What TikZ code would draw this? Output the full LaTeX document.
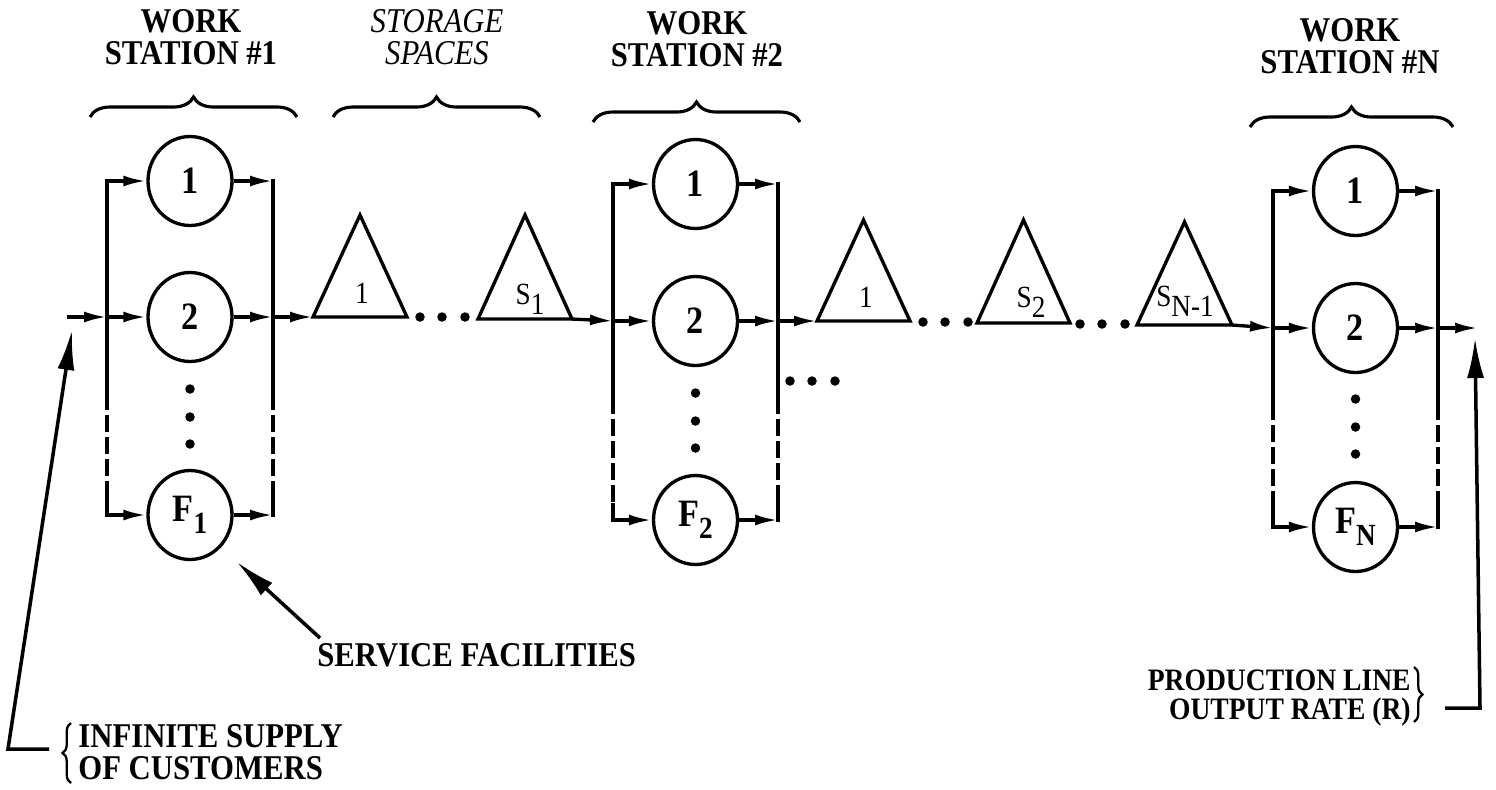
\documentclass[tikz,border=0pt]{standalone}
\usepackage{fontspec}
\setmainfont{Liberation Serif}
\usetikzlibrary{arrows.meta,shapes.geometric,decorations.pathreplacing}
\newcommand{\tall}[1]{\scalebox{1}[1.13]{#1}}
\newcommand{\fsub}[1]{\raisebox{-6pt}{\fontsize{15.5}{15.5}\selectfont #1}}
\newcommand{\tsub}[1]{\raisebox{-5.5pt}{#1}}
\newcommand{\twoC}[2]{\begin{tabular}[t]{@{}c@{}}\tall{#1}\\\tall{#2}\end{tabular}}
\newcommand{\twoL}[2]{\begin{tabular}[t]{@{}l@{}}\tall{#1}\\\tall{#2}\end{tabular}}
\newcommand{\twoR}[2]{\begin{tabular}[t]{@{}r@{}}\tall{#1}\\\tall{#2}\end{tabular}}
\newcommand{\WorkStation}[9]{%
  \pgfmathsetmacro{\cx}{(#2+#3)/2}%
  \pgfmathsetmacro{\dA}{#7-4}%
  \pgfmathsetmacro{\dB}{#7+24}%
  \pgfmathsetmacro{\dC}{#7+51}%
  \node[fac] (#1a) at (\cx,#4) {\tall{1}};
  \node[fac] (#1b) at (\cx,#5) {\tall{2}};
  \node[fac] (#1f) at (\cx,#6) {\tall{F\fsub{#9}}};
  \coordinate (#1La) at (#2,#4); \coordinate (#1Lb) at (#2,#5); \coordinate (#1Lf) at (#2,#6);
  \coordinate (#1Ld) at (#2,#7); \coordinate (#1Le) at (#2,#8);
  \coordinate (#1Ra) at (#3,#4); \coordinate (#1Rb) at (#3,#5); \coordinate (#1Rf) at (#3,#6);
  \coordinate (#1Rd) at (#3,#7); \coordinate (#1Re) at (#3,#8);
  \draw[flow] (#1Ld) -- (#1La) -- (#1a);
  \draw[flow] (#1Lb) -- (#1b);
  \draw[flow] (#1Le) -- (#1Lf) -- (#1f);
  \draw[gap] (#1Ld) -- (#1Le);
  \draw[flow] (#1a) -- (#1Ra);
  \draw[flow] (#1b) -- (#1Rb);
  \draw[flow] (#1f) -- (#1Rf);
  \draw[bar] (#1Ra) -- (#1Rd);
  \draw[gap] (#1Rd) -- (#1Re);
  \draw[bar] (#1Re) -- (#1Rf);
  \node[dot] (#1d1) at (\cx,\dA) {};
  \node[dot] (#1d2) at (\cx,\dB) {};
  \node[dot] (#1d3) at (\cx,\dC) {};
}
\newcommand{\Store}[5]{%
  \pgfmathsetmacro{\tx}{(#2+#3)/2}%
  \coordinate (#1l) at (#2,#4);
  \coordinate (#1r) at (#3,#4);
  \coordinate (#1t) at (\tx,#5);
  \draw[bar,line cap=butt] (#1l) -- (#1t) -- (#1r) -- cycle;
}
\begin{document}
\begin{tikzpicture}[x=0.02cm,y=-0.02cm,
  flow/.style={line width=1.9pt,-{Latex[length=0.46cm,width=0.22cm]}},
  lead/.style={line width=2pt,-{Latex[length=0.8cm,width=0.34cm]}},
  bar/.style={line width=1.9pt,line cap=rect},
  gap/.style={line width=1.9pt,dash pattern=on 0.34cm off 0.1cm},
  fac/.style={ellipse,draw,line width=1.9pt,minimum width=1.68cm,minimum height=1.78cm,inner sep=0pt,font=\fontsize{19.5}{19.5}\selectfont\bfseries},
  dot/.style={circle,fill,inner sep=0pt,minimum size=0.19cm},
  hbrace/.style={decorate,decoration={brace,amplitude=0.4cm},line width=1.8pt},
  tbrace/.style={decorate,decoration={brace,amplitude=0.17cm},line width=1.3pt},
  big/.style={font=\fontsize{17.5}{17.6}\selectfont\bfseries,inner sep=0pt},
  ital/.style={font=\fontsize{17.5}{17.6}\selectfont\itshape,inner sep=0pt},
  tri/.style={font=\fontsize{15.5}{15.5}\selectfont,inner sep=0pt},
  prod/.style={font=\fontsize{15.7}{15.3}\selectfont\bfseries,inner sep=0pt}]
\useasboundingbox (0,0) rectangle (1496,789);

% work stations
\WorkStation{wa}{107}{273}{181}{317}{515}{393}{487}{1}
\WorkStation{wb}{613}{778}{184}{321}{520}{397}{503}{2}
\WorkStation{wn}{1273}{1438}{191}{328}{527}{403}{495}{N}

% storage spaces
\Store{ta}{313}{407}{317}{215}
\Store{tb}{478}{572}{319}{215}
\Store{tc}{817}{910}{321}{220}
\Store{td}{977}{1070}{323}{220}
\Store{te}{1137}{1232}{325}{222}

\node[tri,anchor=base] (lta) at (362,303) {\tall{1}};
\node[tri,anchor=base] (ltb) at (530,304) {\tall{S\tsub{1}}};
\node[tri,anchor=base] (ltc) at (866,307) {\tall{1}};
\node[tri,anchor=base] (ltd) at (1031,307) {\tall{S\tsub{2}}};
\node[tri,anchor=base] (lte) at (1185,306) {\tall{S\tsub{N-1}}};

% dots between storage spaces
\node[dot] (pa1) at (420,317) {}; \node[dot] (pa2) at (442,317) {}; \node[dot] (pa3) at (465,317) {};
\node[dot] (pb1) at (923,322) {}; \node[dot] (pb2) at (945,322) {}; \node[dot] (pb3) at (968,322) {};
\node[dot] (pc1) at (1080,324) {}; \node[dot] (pc2) at (1102,324) {}; \node[dot] (pc3) at (1125,324) {};
\node[dot] (pd1) at (790,381) {}; \node[dot] (pd2) at (812,381) {}; \node[dot] (pd3) at (835,381) {};

% main line connectors
\coordinate (inStart) at (67,317);
\coordinate (outEnd) at (1478,328);
\draw[flow] (inStart) -- (waLb);
\draw[flow] (waRb) -- (tal);
\draw[flow] (tbr) -- (wbLb);
\draw[flow] (wbRb) -- (tcl);
\draw[flow] (ter) -- (wnLb);
\draw[flow] (wnRb) -- (outEnd);

% top labels and braces
\node[big,anchor=base] (h1) at (191,32) {\twoC{WORK}{STATION \#1}};
\node[ital,anchor=base] (h2) at (437,32) {\twoC{STORAGE}{SPACES}};
\node[big,anchor=base] (h3) at (697,34) {\twoC{WORK}{STATION \#2}};
\node[big,anchor=base] (h4) at (1350,41) {\twoC{WORK}{STATION \#N}};
\draw[hbrace] (90,117) -- (297,117);
\draw[hbrace] (333,117) -- (540,117);
\draw[hbrace] (593,122) -- (800,122);
\draw[hbrace] (1250,127) -- (1453,127);

% service facilities
\node[big,anchor=base west] (svc) at (317,666) {\tall{SERVICE FACILITIES}};
\coordinate (svcT) at (320,638);
\coordinate (svcTip) at (237,562);
\draw[lead] (svcT) -- (svcTip);

% infinite supply
\node[big,anchor=base west] (inf) at (78,747) {\twoL{INFINITE SUPPLY}{OF CUSTOMERS}};
\draw[tbrace] (71,783) -- (71,723);
\coordinate (infB) at (49,749);
\coordinate (infC) at (8,749);
\coordinate (infTip) at (72,330);
\draw[lead] (infB) -- (infC) -- (infTip);

% production line output rate
\node[prod,anchor=base east] (pr) at (1411,690) {\twoR{PRODUCTION LINE}{OUTPUT RATE (R)}};
\draw[tbrace] (1414,667) -- (1414,722);
\coordinate (prA) at (1445,708);
\coordinate (prC) at (1480,708);
\coordinate (prTip) at (1475,338);
\draw[lead] (prA) -- (prC) -- (prTip);
\end{tikzpicture}
\end{document}
